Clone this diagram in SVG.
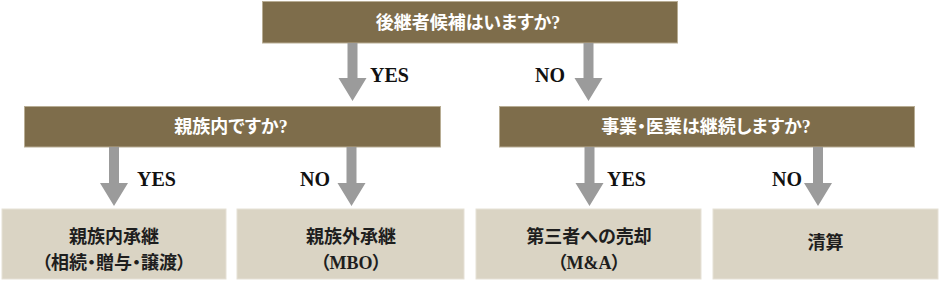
<svg xmlns="http://www.w3.org/2000/svg" width="940" height="282" viewBox="0 0 940 282">
<style>
.q{fill:#7e6d4b;stroke:#b8ad94;stroke-width:1}
.r{fill:#dad4c4;stroke:#e6e1d6;stroke-width:1}
.qt{font-family:"Liberation Serif","Noto Sans CJK JP",serif;font-size:18px;font-weight:700;fill:#ffffff;text-anchor:middle;font-feature-settings:"palt"}
.rt{font-family:"Liberation Serif","Noto Sans CJK JP",serif;font-size:18px;font-weight:700;fill:#1e1e1e;text-anchor:middle;font-feature-settings:"palt"}
.lb{font-family:"Liberation Serif","Noto Sans CJK JP",serif;font-size:20px;font-weight:700;fill:#111111}
.ar{fill:#9b9b9b}
</style>
<rect width="940" height="282" fill="#ffffff"/>
<g id="q1"><rect class="q" x="262.5" y="1.5" width="415" height="41.5"/><text class="qt" x="468" y="29">後継者候補はいますか?</text></g>
<g id="q2"><rect class="q" x="24.5" y="106.5" width="416" height="40.5"/><text class="qt" x="231" y="133">親族内ですか?</text></g>
<g id="q3"><rect class="q" x="499.5" y="106.5" width="415" height="40.5"/><text class="qt" x="706" y="133">事業・医業は継続しますか?</text></g>
<g id="r1"><rect class="r" x="2" y="209" width="224" height="70"/><text class="rt" x="114" y="243">親族内承継</text><text class="rt" x="114" y="269">（相続・贈与・譲渡）</text></g>
<g id="r2"><rect class="r" x="237" y="209" width="227" height="70"/><text class="rt" x="351" y="243">親族外承継</text><text class="rt" x="351" y="269">（MBO）</text></g>
<g id="r3"><rect class="r" x="476" y="209" width="225" height="70"/><text class="rt" x="589" y="243">第三者への売却</text><text class="rt" x="589" y="269">（M&amp;A）</text></g>
<g id="r4"><rect class="r" x="713" y="209" width="225" height="70"/><text class="rt" x="825.5" y="249">清算</text></g>
<g id="connectors">
<path class="ar" d="M347.5 43H357.5V78H366.5L352.5 101L338.5 78H347.5Z"/>
<path class="ar" d="M583.5 43H593.5V78H602.5L588.5 101L574.5 78H583.5Z"/>
<path class="ar" d="M109 147H119V183H128L114 206L100 183H109Z"/>
<path class="ar" d="M346.5 147H356.5V183H365.5L351.5 206L337.5 183H346.5Z"/>
<path class="ar" d="M584.5 147H594.5V183H603.5L589.5 206L575.5 183H584.5Z"/>
<path class="ar" d="M813 147H823V183H832L818 206L804 183H813Z"/>
<text class="lb" x="370" y="82">YES</text>
<text class="lb" x="535" y="82">NO</text>
<text class="lb" x="137" y="186">YES</text>
<text class="lb" x="300" y="186">NO</text>
<text class="lb" x="607" y="186">YES</text>
<text class="lb" x="772" y="186">NO</text>
</g>
</svg>
